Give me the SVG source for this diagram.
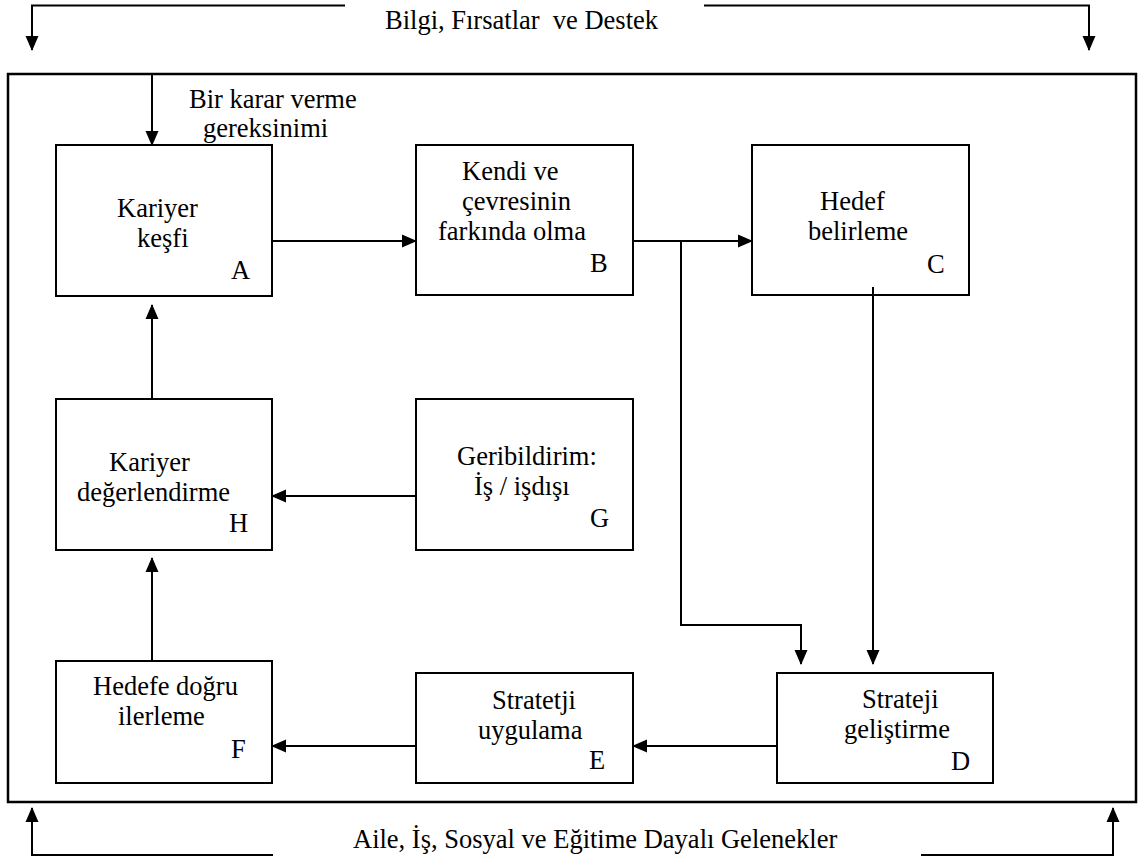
<svg xmlns="http://www.w3.org/2000/svg" width="1138" height="861" viewBox="0 0 1138 861">
  <style>
    .box { fill: #fff; stroke: #000; stroke-width: 2; }
    .frame { fill: none; stroke: #000; stroke-width: 2.5; }
    .wire { fill: none; stroke: #000; stroke-width: 2; }
    text { font-family: "Liberation Serif", "Times New Roman", serif; font-size: 26.5px; fill: #000; }
  </style>
  <defs>
    <marker id="arrow" markerUnits="userSpaceOnUse" markerWidth="15" markerHeight="14" refX="14" refY="7" orient="auto">
      <path d="M0,0.5 L15,7 L0,13.5 z" fill="#000"/>
    </marker>
  </defs>

  <rect width="1138" height="861" fill="#fff"/>

  <!-- outer frame -->
  <rect class="frame" x="8" y="74" width="1128" height="728"/>

  <!-- external influences -->
  <g id="influence-top">
    <text x="385" y="29" xml:space="preserve">Bilgi, Fırsatlar  ve Destek</text>
  </g>
  <g id="influence-bottom">
    <text x="353" y="848">Aile, İş, Sosyal ve Eğitime Dayalı Gelenekler</text>
  </g>
  <g id="trigger">
    <text x="189" y="108">Bir karar verme</text>
    <text x="203" y="137">gereksinimi</text>
  </g>

  <!-- process nodes -->
  <g id="node-a">
    <rect class="box" x="56" y="145" width="216" height="151"/>
    <text x="117" y="217">Kariyer</text>
    <text x="137" y="247">keşfi</text>
    <text x="231" y="279">A</text>
  </g>
  <g id="node-b">
    <rect class="box" x="416" y="145" width="217" height="150"/>
    <text x="462" y="180">Kendi ve</text>
    <text x="462" y="210">çevresinin</text>
    <text x="438" y="240">farkında olma</text>
    <text x="590" y="272">B</text>
  </g>
  <g id="node-c">
    <rect class="box" x="752" y="145" width="217" height="150"/>
    <text x="820" y="210">Hedef</text>
    <text x="808" y="240">belirleme</text>
    <text x="927" y="273">C</text>
  </g>
  <g id="node-h">
    <rect class="box" x="56" y="399" width="216" height="151"/>
    <text x="109" y="471">Kariyer</text>
    <text x="77" y="501">değerlendirme</text>
    <text x="229" y="532">H</text>
  </g>
  <g id="node-g">
    <rect class="box" x="416" y="399" width="217" height="151"/>
    <text x="457" y="465">Geribildirim:</text>
    <text x="474" y="495">İş / işdışı</text>
    <text x="590" y="527">G</text>
  </g>
  <g id="node-f">
    <rect class="box" x="56" y="661" width="216" height="122"/>
    <text x="93" y="695">Hedefe doğru</text>
    <text x="118" y="725">ilerleme</text>
    <text x="231" y="758">F</text>
  </g>
  <g id="node-e">
    <rect class="box" x="416" y="673" width="217" height="110"/>
    <text x="492" y="709">Stratetji</text>
    <text x="478" y="739">uygulama</text>
    <text x="589" y="769">E</text>
  </g>
  <g id="node-d">
    <rect class="box" x="777" y="673" width="216" height="110"/>
    <text x="862" y="708">Strateji</text>
    <text x="844" y="738">geliştirme</text>
    <text x="951" y="770">D</text>
  </g>

  <!-- connectors -->
  <g id="connectors">
    <polyline class="wire" points="345,5.5 32,5.5 32,50" marker-end="url(#arrow)"/>
    <polyline class="wire" points="704,5.5 1089,5.5 1089,50" marker-end="url(#arrow)"/>
    <polyline class="wire" points="273,855 32,855 32,808" marker-end="url(#arrow)"/>
    <polyline class="wire" points="921,855 1113,855 1113,808" marker-end="url(#arrow)"/>
    <line class="wire" x1="152" y1="74" x2="152" y2="145" marker-end="url(#arrow)"/>
    <line class="wire" x1="272" y1="241" x2="416" y2="241" marker-end="url(#arrow)"/>
    <line class="wire" x1="633" y1="241" x2="752" y2="241" marker-end="url(#arrow)"/>
    <polyline class="wire" points="681,241 681,625 801,625 801,664" marker-end="url(#arrow)"/>
    <line class="wire" x1="873" y1="287" x2="873" y2="664" marker-end="url(#arrow)"/>
    <line class="wire" x1="777" y1="746" x2="633" y2="746" marker-end="url(#arrow)"/>
    <line class="wire" x1="416" y1="746" x2="272" y2="746" marker-end="url(#arrow)"/>
    <line class="wire" x1="152" y1="661" x2="152" y2="558" marker-end="url(#arrow)"/>
    <line class="wire" x1="416" y1="496" x2="272" y2="496" marker-end="url(#arrow)"/>
    <line class="wire" x1="152" y1="399" x2="152" y2="305" marker-end="url(#arrow)"/>
  </g>
</svg>
